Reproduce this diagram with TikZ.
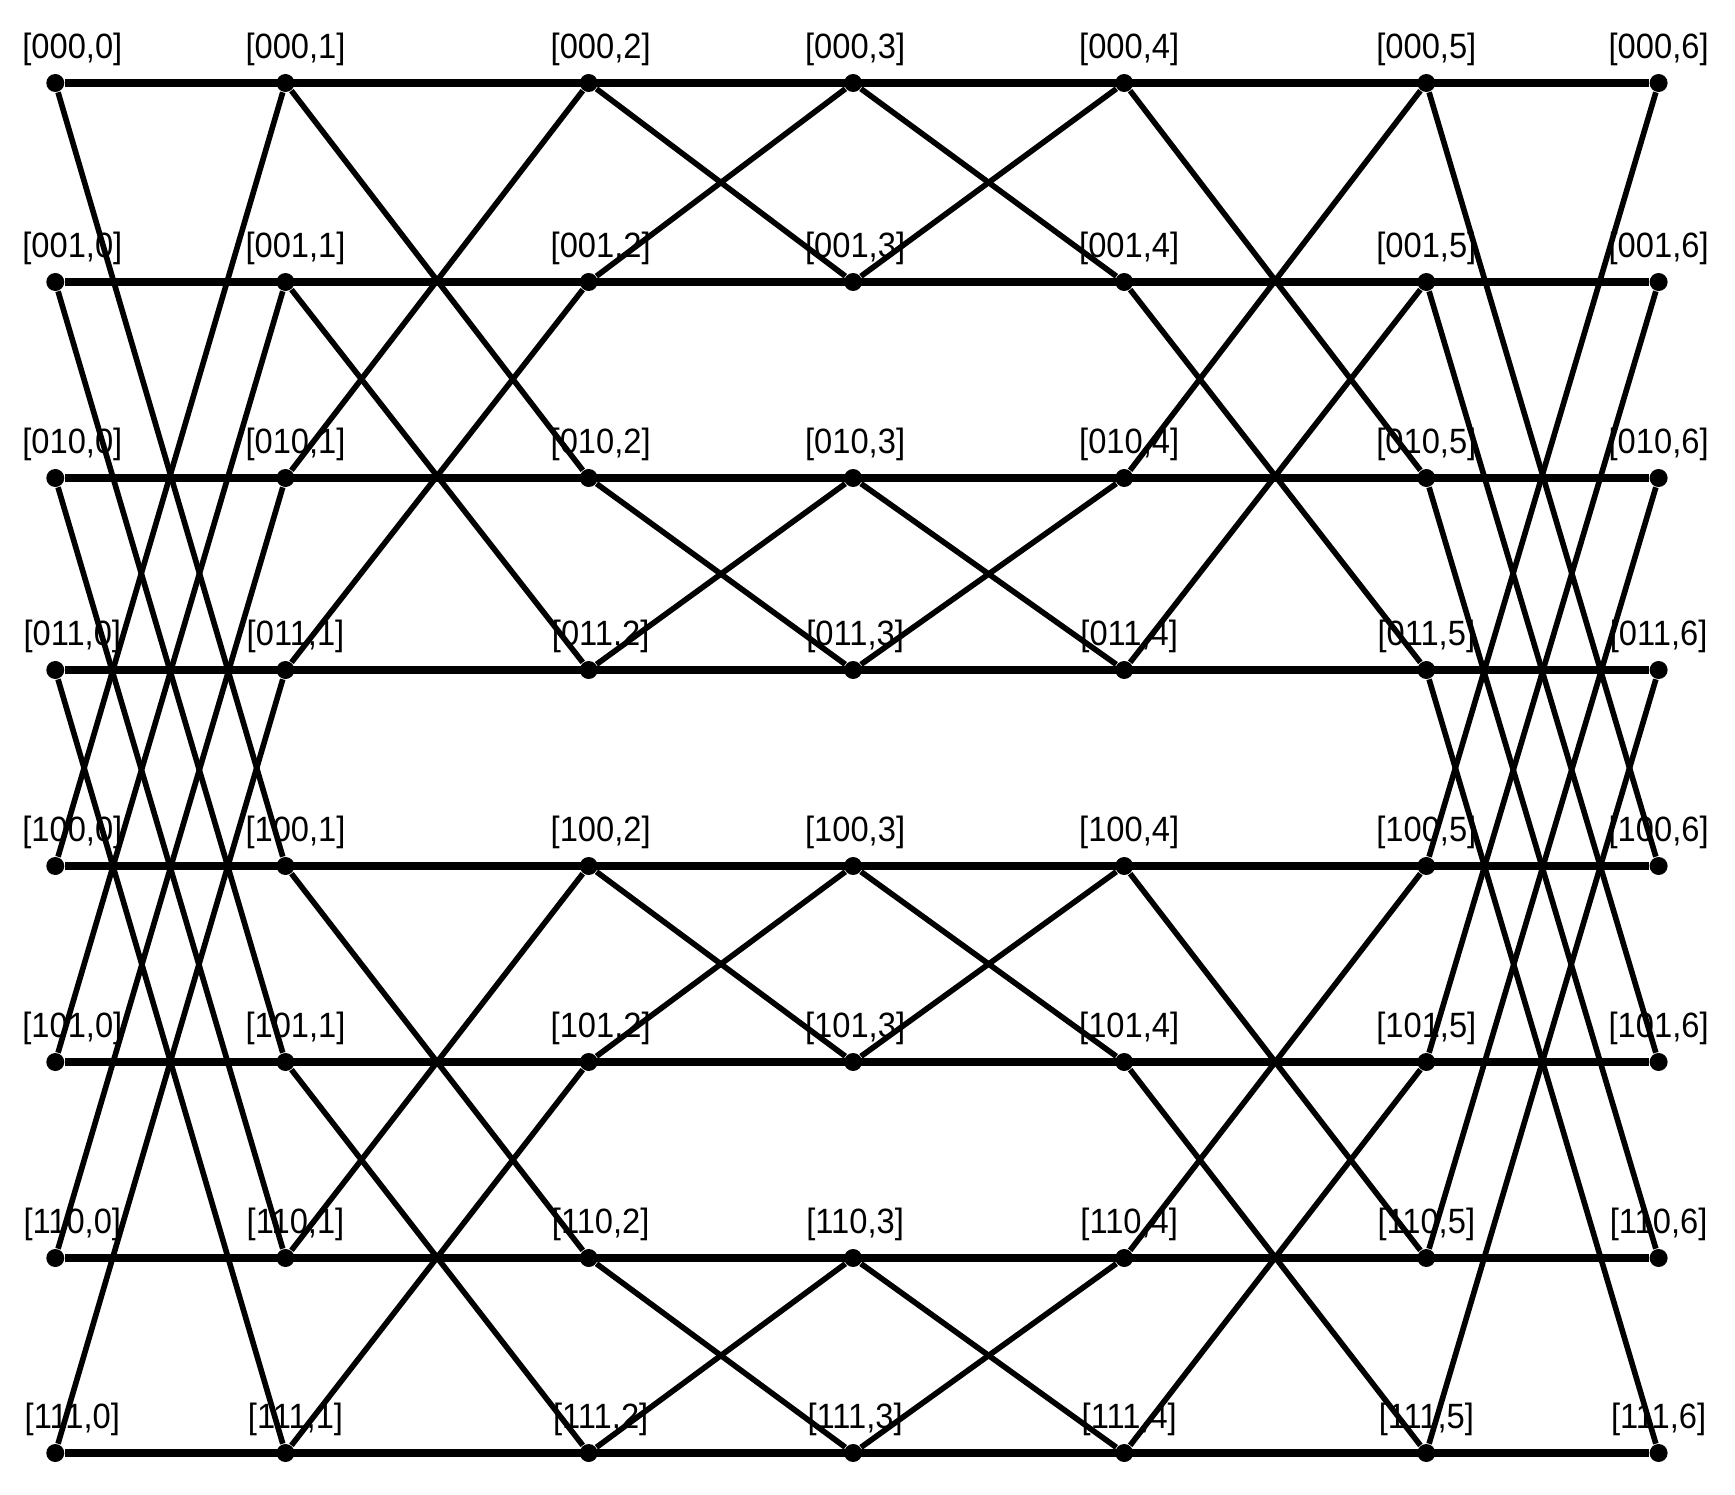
\documentclass[tikz,border=0pt]{standalone}
\usepackage{fontspec}
\setmainfont{Liberation Sans}
\usepackage{graphicx}
\usetikzlibrary{positioning,calc}

\newcommand{\nodetag}[1]{\scalebox{0.93}[1]{#1}}

\begin{document}
\begin{tikzpicture}[
	vertex/.style={
		circle,
		fill=black,
		inner sep=0pt,
		minimum width=1.8mm
	},
	tag/.style={
		font=\fontsize{10}{12}\selectfont,
		inner sep=0pt,
		label distance=0.07cm
	},
	rowline/.style={line width=2.2pt},
	crossline/.style={line width=1.6pt},
	]
	\useasboundingbox (0,0) rectangle (17.35,14.94);
	% vertices [row,column]
	\foreach \c/\x/\dx in {0/0.553/0.17, 1/2.855/0.10, 2/5.887/0.12, 3/8.531/0.02,
		4/11.242/0.05, 5/14.263/0.0, 6/16.586/0.0}
	\foreach \r/\y in {000/14.11, 001/12.12, 010/10.16, 011/8.24,
		100/6.28, 101/4.32, 110/2.36, 111/0.41}
	\node[vertex, label={[tag, xshift=\dx cm]90:{\nodetag{[\r,\c]}}}] (v\r-\c) at (\x,\y) {};
	
	% straight rows
	\foreach \r in {000,001,010,011,100,101,110,111}
	\draw[rowline] (v\r-0) -- (v\r-6);
	
	% first bit
	\foreach \a/\b in {000/100, 001/101, 010/110, 011/111, 100/000, 101/001, 110/010, 111/011} {
		\draw[crossline] (v\a-0) -- (v\b-1);
		\draw[crossline] (v\a-5) -- (v\b-6);
	}
	% second bit
	\foreach \a/\b in {000/010, 001/011, 010/000, 011/001, 100/110, 101/111, 110/100, 111/101} {
		\draw[crossline] (v\a-1) -- (v\b-2);
		\draw[crossline] (v\a-4) -- (v\b-5);
	}
	% third bit
	\foreach \a/\b in {000/001, 001/000, 010/011, 011/010, 100/101, 101/100, 110/111, 111/110} {
		\draw[crossline] (v\a-2) -- (v\b-3);
		\draw[crossline] (v\a-3) -- (v\b-4);
	}
\end{tikzpicture}
\end{document}
